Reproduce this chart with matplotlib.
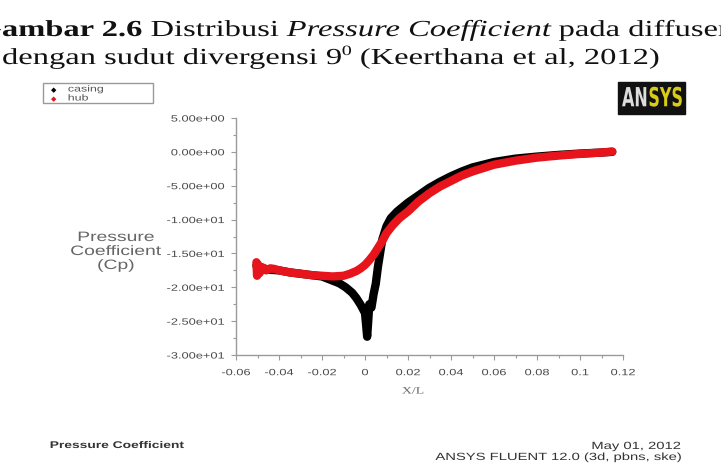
import matplotlib
matplotlib.use("Agg")
import matplotlib.pyplot as plt
from matplotlib.ticker import FixedLocator, MultipleLocator
from matplotlib.patches import Rectangle
from matplotlib.patheffects import AbstractPathEffect
from matplotlib.transforms import Affine2D

W, H = 721, 464

# ---------------- data ----------------
casing_x = [-0.0505, -0.049, -0.047, -0.045, -0.04, -0.035, -0.03, -0.025, -0.02,
            -0.016, -0.012, -0.009, -0.006, -0.004, -0.002, -0.001, 0.0, 0.0005,
            0.001, 0.0015, 0.002, 0.003, 0.004, 0.005, 0.006, 0.007, 0.008, 0.01,
            0.012, 0.015, 0.02, 0.025, 0.03, 0.035, 0.04, 0.045, 0.05, 0.06, 0.07,
            0.08, 0.09, 0.1, 0.11, 0.115]
casing_y = [-16.8, -17.6, -17.2, -17.4, -17.5, -17.8, -18.0, -18.2, -18.4,
            -18.9, -19.4, -20.0, -20.8, -21.6, -22.6, -23.2, -23.8, -25.5,
            -27.3, -25.0, -22.5, -23.0, -21.0, -19.5, -17.0, -15.0, -13.0, -11.0,
            -9.8, -8.8, -7.5, -6.4, -5.3, -4.4, -3.6, -2.9, -2.3, -1.5, -1.0,
            -0.7, -0.45, -0.25, -0.1, 0.0]

hub_x = [-0.0505, -0.0502, -0.0498, -0.049, -0.048, -0.046, -0.044, -0.042, -0.04,
         -0.035, -0.03, -0.025, -0.02, -0.015, -0.01, -0.007, -0.004, -0.002, 0.0,
         0.002, 0.004, 0.006, 0.008, 0.01, 0.013, 0.016, 0.02, 0.025, 0.03, 0.035,
         0.04, 0.045, 0.05, 0.06, 0.07, 0.08, 0.09, 0.1, 0.11, 0.115]
hub_y = [-16.3, -18.3, -16.6, -17.9, -17.0, -17.5, -17.2, -17.3, -17.5,
         -17.8, -18.0, -18.2, -18.3, -18.4, -18.3, -18.0, -17.6, -17.2, -16.7,
         -16.0, -15.2, -14.2, -13.2, -12.0, -10.8, -9.8, -8.8, -7.3, -6.1, -5.1,
         -4.3, -3.5, -2.9, -1.9, -1.3, -0.85, -0.55, -0.3, -0.1, 0.05]

series_names = ["casing", "hub"]
series_colors = ["#000000", "#e8141b"]

y_ticks = [5, 0, -5, -10, -15, -20, -25, -30]
y_tick_labels = ["5.00e+00", "0.00e+00", "-5.00e+00", "-1.00e+01", "-1.50e+01",
                 "-2.00e+01", "-2.50e+01", "-3.00e+01"]
x_ticks = [-0.06, -0.04, -0.02, 0, 0.02, 0.04, 0.06, 0.08, 0.1, 0.12]
x_tick_labels = ["-0.06", "-0.04", "-0.02", "0", "0.02", "0.04", "0.06", "0.08", "0.1", "0.12"]

S = 1.42  # the reference picture is stretched horizontally


class Stretch(AbstractPathEffect):
    """Draw text stretched about an anchor (sx horizontally, sy vertically)."""

    def __init__(self, sx=S, anchor="left", x0=None, sy=1.0):
        super().__init__()
        self.sx = sx
        self.sy = sy
        self.anchor = anchor
        self.x0 = x0

    def draw_path(self, renderer, gc, tpath, affine, rgbFace=None):
        ext = tpath.get_extents(affine)
        if self.x0 is not None:
            x0 = self.x0
        else:
            x0 = {"left": ext.x0, "right": ext.x1, "center": 0.5 * (ext.x0 + ext.x1)}[self.anchor]
        y0 = 0.5 * (ext.y0 + ext.y1)
        tr = affine + Affine2D().translate(-x0, -y0).scale(self.sx, self.sy).translate(x0, y0)
        renderer.draw_path(gc, tpath, tr, rgbFace)


# ---------------- figure ----------------
fig = plt.figure(figsize=(W / 100, H / 100), dpi=100)
fig.patch.set_facecolor("white")


def fx(x):
    return x / W


def fy(y):
    return 1 - y / H


left, right, top, bottom = 236, 623, 119, 356
ax = fig.add_axes([fx(left), fy(bottom), fx(right - left), (bottom - top) / H])
ax.set_xlim(-0.06, 0.12)
ax.set_ylim(-30, 5)

ax.plot(casing_x, casing_y, color=series_colors[0], lw=6, solid_capstyle="round",
        solid_joinstyle="round", zorder=2)
ax.plot(hub_x, hub_y, color=series_colors[1], lw=6, solid_capstyle="round",
        solid_joinstyle="round", zorder=3)

for s in ["top", "right"]:
    ax.spines[s].set_visible(False)
for s in ["left", "bottom"]:
    ax.spines[s].set_color("#9a9a9a")
    ax.spines[s].set_linewidth(1.0)

ax.yaxis.set_major_locator(FixedLocator(y_ticks))
ax.set_yticklabels(y_tick_labels)
ax.yaxis.set_minor_locator(MultipleLocator(2.5))
ax.xaxis.set_major_locator(FixedLocator(x_ticks))
ax.set_xticklabels(x_tick_labels)
ax.xaxis.set_minor_locator(MultipleLocator(0.01))
ax.tick_params(axis="both", which="major", direction="out", length=3.5, width=0.8,
               color="#9a9a9a", labelsize=6.5, labelcolor="#4a4a4a",
               labelfontfamily="Liberation Sans")
ax.tick_params(axis="both", which="minor", direction="out", length=2, width=0.8,
               color="#9a9a9a")
ax.tick_params(axis="y", which="major", pad=5)
ax.tick_params(axis="x", which="major", pad=6)
for lab in ax.get_yticklabels():
    lab.set_path_effects([Stretch(anchor="right")])
for lab in ax.get_xticklabels():
    lab.set_path_effects([Stretch(anchor="center")])
ax.patch.set_alpha(0)


def stext(x, y, s, ha="left", **kw):
    t = fig.text(fx(x), fy(y), s, ha=ha, **kw)
    t.set_path_effects([Stretch(anchor=ha)])
    return t


# axis titles
stext(413, 392, "X/L", ha="center", va="center", fontsize=7, color="#666666",
      family="Liberation Serif")
stext(116, 252, "Pressure\nCoefficient\n(Cp)", ha="center", va="center",
      fontsize=9.8, color="#666666", family="Liberation Sans", linespacing=1.0,
      multialignment="center")

# legend box
fig.add_artist(Rectangle((fx(43), fy(104)), fx(110), (104 - 84) / H, transform=fig.transFigure,
                         facecolor="white", edgecolor="#999999", lw=1.0))
for i, (nm, col) in enumerate(zip(series_names, series_colors)):
    yy = 90 + i * 9
    fig.text(fx(54), fy(yy), "\u25c6", ha="center", va="center", fontsize=5, color=col,
             family="DejaVu Sans")
    stext(68, yy, nm, ha="left", va="center", fontsize=6.3, color="#555555",
          family="Liberation Sans")

# ANSYS logo
fig.add_artist(Rectangle((fx(618), fy(115)), fx(67), (115 - 83) / H, transform=fig.transFigure,
                         facecolor="#111111", edgecolor="#111111"))
renderer = fig.canvas.get_renderer()
ta = fig.text(fx(622), fy(99), "AN", ha="left", va="center", fontsize=11.5, color="#dddddd",
              family="Liberation Sans Narrow", weight="bold")
wa = ta.get_window_extent(renderer).width
ta.set_path_effects([Stretch(sx=1.0, sy=1.65, anchor="left")])
tb = fig.text(fx(622 + wa + 0.5), fy(99), "SYS", ha="left", va="center", fontsize=11.5,
              color="#d8cc18", family="Liberation Sans Narrow", weight="bold")
tb.set_path_effects([Stretch(sx=1.0, sy=1.65, anchor="left")])

# bottom texts
stext(50, 446, "Pressure Coefficient", ha="left", va="center", fontsize=7,
      color="#333333", family="Liberation Sans", weight="bold")
stext(681, 447, "May 01, 2012", ha="right", va="center", fontsize=7.5,
      color="#333333", family="Liberation Sans")
stext(681, 458, "ANSYS FLUENT 12.0 (3d, pbns, ske)", ha="right", va="center",
      fontsize=7.5, color="#333333", family="Liberation Sans")

# caption (chained pieces, stretched)
CAP = 16.5


def chain(pieces, x0, ybase):
    x = x0
    for txt, style, weight, size, dy in pieces:
        t = fig.text(fx(x), fy(ybase - dy), txt, ha="left", va="baseline", fontsize=size,
                     family="Liberation Serif", style=style, weight=weight, color="#111111")
        w = t.get_window_extent(renderer).width
        t.set_path_effects([Stretch(x0=x)])
        x += w * S
    return x


line1 = [("Gambar 2.6", "normal", "bold", CAP, 0),
         (" Distribusi ", "normal", "normal", CAP, 0),
         ("Pressure Coefficient", "italic", "normal", CAP, 0),
         (" pada diffuser", "normal", "normal", CAP, 0)]
tg = fig.text(0, 0, "G", fontsize=CAP, family="Liberation Serif", weight="bold")
gw = tg.get_window_extent(renderer).width
tg.remove()
chain(line1, 2 - gw * S, 37)

line2 = [("dengan sudut divergensi 9", "normal", "normal", CAP, 0),
         ("0", "normal", "normal", CAP * 0.62, 9),
         (" (Keerthana et al, 2012)", "normal", "normal", CAP, 0)]
chain(line2, 2, 65)

fig.savefig("out.png", dpi=100, facecolor="white")
